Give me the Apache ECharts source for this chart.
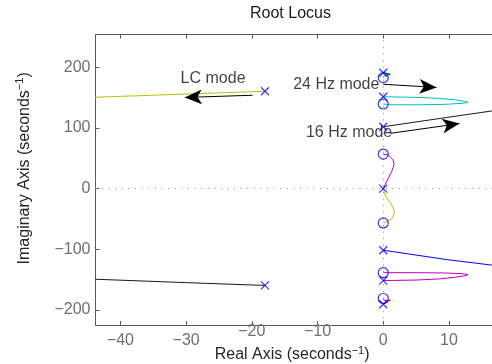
<!DOCTYPE html>
<html><head><meta charset="utf-8">
<script src="https://cdn.jsdelivr.net/npm/echarts@6/dist/echarts.min.js"></script>
<style>html,body{margin:0;padding:0;background:#fff}#c{width:492px;height:364px}</style>
</head><body><div id="c"></div>
<script>
// tick values
const xTicks = [-40, -30, -20, -10, 0, 10];
const xLabelsLow = [-40, -30, 0, 10];
const xLabelsHigh = [-20, -10];
const yTicks = [-200, -100, 0, 100, 200];

// poles (x) and zeros (o)
const poles = [[0, 191], [0, 151.5], [0, 102], [0, 0], [0, -101.5], [0, -151.5], [0, -190.5], [-18, 160.5], [-18, -159.5]];
const zeros = [[0, 183], [0, 139.5], [0, 57], [0, -56.5], [0, -138.5], [0, -181]];

// locus branches
const branchYellowLC = [[-18, 160.5], [-30, 155.9], [-43.8, 150.6], [-50, 148.2]];
const branchBlackLow = [[-18, -159.5], [-30, -154.9], [-43.8, -149.3], [-50, -147]];
const branchBlackUp = [[0, 102], [9.6, 117.2], [16.5, 128], [20, 133.2]];
const branchBlue = [[0, -101.5], [9.6, -116.8], [16.5, -126], [20, -131]];
const branchCyan = [[0, 151.5], [5, 150.4], [8.5, 148.8], [11, 146.3], [12.4, 143.8], [12.9, 142.3], [12.3, 140.8], [9.5, 139], [5, 138.1], [1, 138.3], [0, 139.5]];
const branchMagentaLoop = [[0, -138.5], [5, -138.5], [9.5, -139], [12.3, -140.3], [12.9, -141.8], [12.4, -143.5], [11, -146], [8.5, -148.8], [5, -150.6], [0, -151.5]];
const branchMagentaS = [[0, 57], [0.76, 55.5], [1.43, 48.4], [1.67, 41.8], [1.5, 35], [1.28, 28], [0.76, 17], [0.26, 6], [0, 0]];
const branchYellowS = [[0, 0], [0.26, -10.4], [0.76, -18.6], [1.28, -26.9], [1.6, -35], [1.67, -40.6], [1.43, -48.8], [0.76, -53.5], [0, -56.5]];
const branchGreen = [[0, 183], [0.2, 186.3], [1.1, 188.6], [0.4, 190.3], [0, 191]];
const branchRed = [[0, -181], [0.2, -184.8], [1.1, -183.5], [0.3, -188.8], [0, -190.5]];

// annotations
const annotationText = ['LC mode', '24 Hz mode', '16 Hz mode'];
const annotationPos = [[-25.9, 180.7], [-7.15, 170.8], [-5.2, 92.9]];
const arrowFrom = [[-19.9, 153.9], [0, 172], [1.1, 91.2]];
const arrowTo = [[-30.2, 150.3], [8.1, 166.8], [11.6, 107.2]];

const FONT = '"Liberation Sans", Arial, Helvetica, sans-serif';
const AXIS_COLOR = '#5a5a5a';
const LABEL_COLOR = '#6e6e6e';
const fmt = v => (v < 0 ? '\u2212' + Math.abs(v) : String(v));

const chart = echarts.init(document.getElementById('c'), null, {renderer: 'canvas'});

const xCommon = {type: 'value', min: -43.79, max: 20, splitLine: {show: false}, gridIndex: 0};
const tickStyle = {color: AXIS_COLOR, width: 1};

function lineSeries(name, data, color) {
  return {
    name, type: 'line', data, showSymbol: false, symbol: 'none', smooth: false,
    lineStyle: {color, width: 1}, z: 3, silent: true
  };
}

const option = {
  animation: false,
  backgroundColor: '#ffffff',
  title: {
    text: 'Root Locus', left: 250, top: 6, padding: 0,
    textStyle: {fontFamily: FONT, fontSize: 16, fontWeight: 'normal', color: '#1a1a1a'}
  },
  grid: {left: 95.5, top: 34.7, width: 419.2, height: 290.3, outerBoundsMode: 'none'},
  xAxis: [
    Object.assign({}, xCommon, {
      position: 'bottom',
      axisLine: {show: true, onZero: false, lineStyle: {color: AXIS_COLOR, width: 1}},
      axisTick: {show: true, inside: true, length: 4, customValues: xTicks, lineStyle: tickStyle},
      axisLabel: {customValues: xLabelsLow, margin: 8, fontSize: 16, fontFamily: FONT, color: LABEL_COLOR, formatter: fmt},
      name: '{t|Real Axis (seconds}{s|\u22121}{t|)}',
      nameLocation: 'middle', nameGap: 20, nameMoveOverlap: false,
      nameTextStyle: {padding: [0, 26, 0, 0], rich: {
        t: {fontSize: 16, fontFamily: FONT, color: '#262626'},
        s: {fontSize: 11, fontFamily: FONT, color: '#262626', padding: [0, 0, 9, 0]}
      }}
    }),
    Object.assign({}, xCommon, {
      position: 'top',
      axisLine: {show: true, onZero: false, lineStyle: {color: AXIS_COLOR, width: 1}},
      axisTick: {show: true, inside: true, length: 4, customValues: xTicks, lineStyle: tickStyle},
      axisLabel: {show: false}
    }),
    Object.assign({}, xCommon, {
      position: 'bottom',
      axisLine: {show: false, onZero: false},
      axisTick: {show: false},
      axisLabel: {customValues: xLabelsHigh, margin: -1, fontSize: 16, fontFamily: FONT, color: LABEL_COLOR, formatter: fmt}
    })
  ],
  yAxis: [{
    type: 'value', min: -224.7, max: 253.7, position: 'left',
    splitLine: {show: false},
    axisLine: {show: true, onZero: false, lineStyle: {color: AXIS_COLOR, width: 1}},
    axisTick: {show: true, inside: true, length: 4, customValues: yTicks, lineStyle: tickStyle},
    axisLabel: {customValues: yTicks, margin: 5, fontSize: 16, fontFamily: FONT, color: LABEL_COLOR, formatter: fmt},
    name: '{t|Imaginary Axis (seconds}{s|\u22121}{t|)}',
    nameLocation: 'middle', nameGap: 61, nameMoveOverlap: false,
    nameTextStyle: {padding: [0, 0, 0, 23], rich: {
      t: {fontSize: 16, fontFamily: FONT, color: '#262626'},
      s: {fontSize: 11, fontFamily: FONT, color: '#262626', padding: [0, 0, 9, 0]}
    }}
  }],
  series: [
    {
      type: 'line', data: [], silent: true, z: 1,
      markLine: {
        silent: true, symbol: ['none', 'none'], label: {show: false},
        lineStyle: {type: [1, 5.6], color: '#8a8a8a', width: 1},
        emphasis: {disabled: true},
        data: [{xAxis: 0}, {yAxis: 0}]
      }
    },
    lineSeries('yellowLC', branchYellowLC, '#bfbf00'),
    lineSeries('blackLow', branchBlackLow, '#1a1a1a'),
    lineSeries('blackUp', branchBlackUp, '#1a1a1a'),
    lineSeries('blue', branchBlue, '#0000ff'),
    lineSeries('cyan', branchCyan, '#00bfbf'),
    lineSeries('magentaLoop', branchMagentaLoop, '#bf00bf'),
    lineSeries('magentaS', branchMagentaS, '#bf00bf'),
    lineSeries('yellowS', branchYellowS, '#bfbf00'),
    lineSeries('green', branchGreen, '#008000'),
    lineSeries('red', branchRed, '#ff0000'),
    {
      type: 'scatter', data: poles, symbol: 'path://M0,0L10,10M10,0L0,10', symbolSize: 8,
      itemStyle: {color: 'rgba(0,0,0,0)', borderColor: '#0000ff', borderWidth: 1.2}, z: 5, silent: true
    },
    {
      type: 'scatter', data: zeros, symbol: 'circle', symbolSize: 10,
      itemStyle: {color: 'rgba(0,0,0,0)', borderColor: '#0000ff', borderWidth: 1.2}, z: 5, silent: true
    },
    {
      type: 'scatter', silent: true, z: 6, symbolSize: 1,
      itemStyle: {color: 'rgba(0,0,0,0)'},
      data: annotationPos.map((p, i) => ({value: p, name: annotationText[i]})),
      label: {show: true, position: 'inside', formatter: p => p.name, fontSize: 16, fontFamily: FONT, color: '#111', align: 'center', verticalAlign: 'middle'}
    },
    {
      type: 'line', data: [], silent: true, z: 7,
      markLine: {
        silent: true, symbol: ['none', 'arrow'], symbolSize: [11, 17],
        label: {show: false}, emphasis: {disabled: true},
        lineStyle: {type: 'solid', color: '#000', width: 1},
        itemStyle: {color: '#000'},
        data: arrowFrom.map((f, i) => [{coord: f}, {coord: arrowTo[i]}])
      }
    }
  ]
};
chart.setOption(option);
</script></body></html>
